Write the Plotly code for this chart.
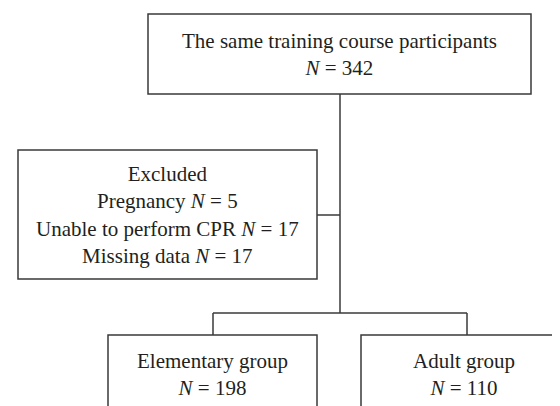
import plotly.graph_objects as go

# Flowchart content
box_labels = [
    "The same training course participants<br><i>N</i> = 342",
    "Excluded<br>Pregnancy <i>N</i> = 5<br>Unable to perform CPR <i>N</i> = 17<br>Missing data <i>N</i> = 17",
    "Elementary group<br><i>N</i> = 198",
    "Adult group<br><i>N</i> = 110",
]
# box extents in chart units (x0, x1, y0, y1)
box_x0 = [140, 10, 100, 353]
box_x1 = [523, 309, 309, 559]
box_y0 = [6, 142, 327, 327]
box_y1 = [86, 271, 405, 405]

# connector polylines
conn_x = [[332, 332], [309, 332], [205, 459], [205, 205], [459, 459]]
conn_y = [[86, 305], [207, 207], [305, 305], [305, 327], [305, 327]]

W, H = 560, 406
line_col = "#3a3a3a"

fig = go.Figure()
shapes = []
for x0, x1, y0, y1 in zip(box_x0, box_x1, box_y0, box_y1):
    shapes.append(dict(type="rect", xref="x", yref="y", x0=x0, x1=x1, y0=y0, y1=y1,
                       line=dict(color=line_col, width=1.5), fillcolor="white"))
for xs, ys in zip(conn_x, conn_y):
    shapes.append(dict(type="line", xref="x", yref="y", x0=xs[0], x1=xs[1], y0=ys[0], y1=ys[1],
                       line=dict(color=line_col, width=1.5)))

annotations = []
for lab, x0, x1, y0, y1 in zip(box_labels, box_x0, box_x1, box_y0, box_y1):
    annotations.append(dict(x=(x0 + x1) / 2, y=(y0 + y1) / 2, xref="x", yref="y",
                            text=lab, showarrow=False, align="center",
                            font=dict(family="Liberation Serif, Times New Roman, serif", size=21, color="#231f20")))

fig.update_layout(
    width=W, height=H,
    margin=dict(l=0, r=0, t=0, b=0),
    paper_bgcolor="white", plot_bgcolor="white",
    shapes=shapes, annotations=annotations,
    xaxis=dict(range=[0, W], visible=False, fixedrange=True),
    yaxis=dict(range=[H, 0], visible=False, fixedrange=True),
    showlegend=False,
)
fig.write_html("out.html")
